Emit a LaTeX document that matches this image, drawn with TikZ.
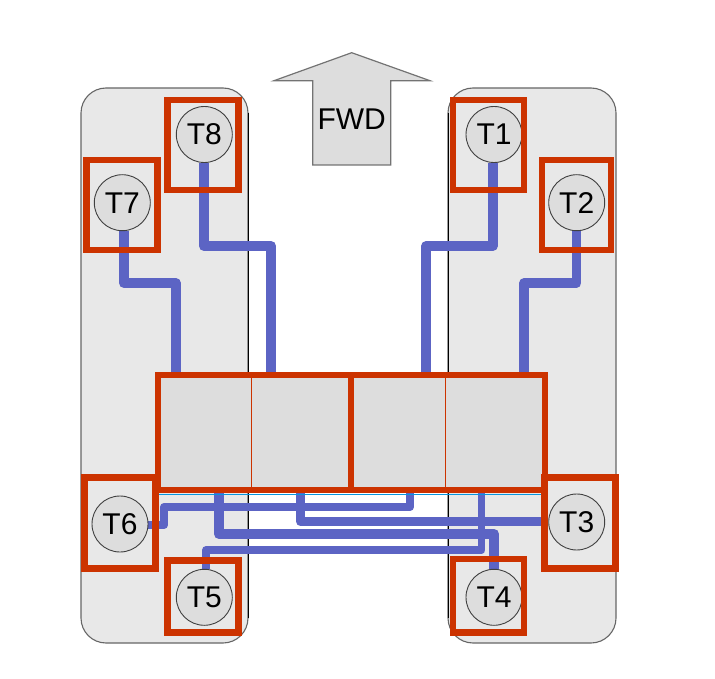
\documentclass[tikz,border=0pt]{standalone}
\usepackage{fontspec}
\setmainfont{Liberation Sans}
\usetikzlibrary{calc}
\definecolor{redc}{HTML}{CC3300}
\definecolor{bluew}{HTML}{5C64C4}
\definecolor{panelc}{HTML}{E8E8E8}
\definecolor{cellc}{HTML}{DDDDDD}
\pgfdeclarelayer{panels}
\pgfdeclarelayer{wires}
\pgfsetlayers{panels,wires,main}
\tikzset{
  panelbox/.style={draw=black!60,fill=panelc,line width=1.1pt,rounded corners=25pt},
  tire/.style={circle,draw=black!75,fill=cellc,line width=0.9pt,minimum size=56pt,inner sep=0pt,font=\fontsize{30}{30}\selectfont},
  frame/.style={draw=redc,line width=6.8pt,minimum width=#1,inner sep=0pt,outer sep=0pt},
  cell/.style={fill=cellc,draw=none,inner sep=0pt,outer sep=0pt,minimum height=115pt},
  wire/.style={draw=bluew,line width=#1,line join=round,line cap=butt},
  wire/.default=10pt,
}
\begin{document}
\begin{tikzpicture}[x=1pt,y=-1pt]
\useasboundingbox (0,0) rectangle (715,679);
% arrow label
\node[inner sep=0pt] (fwd) at (351.7,119) {\fontsize{30}{30}\selectfont FWD};
% central cells
\node[cell,minimum width=93pt,anchor=west] (c1) at (158,432.5) {};
\node[cell,minimum width=100pt,anchor=west] (c2) at (251,432.5) {};
\node[cell,minimum width=94pt,anchor=west] (c3) at (351,432.5) {};
\node[cell,minimum width=100pt,anchor=west] (c4) at (445,432.5) {};
\draw[redc,line width=0.8pt] (c1.north east) -- (c1.south east);
\draw[redc,line width=0.8pt] (c3.north east) -- (c3.south east);
\draw[redc,line width=5.5pt] (c2.north east) -- (c2.south east);
\draw[cyan!80!blue,line width=1pt] (c1.south west |- 0,494) -- (c4.south east |- 0,494);
\draw[redc,line width=5.5pt] (c1.north west) rectangle (c4.south east);
% tires
\node[tire,text depth=0pt,yshift=0pt] (t1) at (494,134.5) {T1};
\node[tire] (t2) at (576.7,202.7) {T2};
\node[tire] (t3) at (576.7,522) {T3};
\node[tire] (t4) at (494,597.3) {T4};
\node[tire] (t5) at (204.3,597.3) {T5};
\node[tire] (t6) at (120,524) {T6};
\node[tire] (t7) at (122.3,202.7) {T7};
\node[tire] (t8) at (204.3,134.5) {T8};
% red frames
\node[frame=71pt,minimum height=90pt] (f1) at (488.5,145) {};
\node[frame=69pt,minimum height=90pt] (f2) at (576.5,205) {};
\node[frame=71pt,minimum height=91pt] (f3) at (580,523.3) {};
\node[frame=71pt,minimum height=73.5pt] (f4) at (488.5,595.8) {};
\node[frame=71pt,minimum height=72.5pt] (f5) at (203.3,596.5) {};
\node[frame=71pt,minimum height=91pt] (f6) at (120.3,523.3) {};
\node[frame=71pt,minimum height=90pt] (f7) at (122.3,205) {};
\node[frame=71pt,minimum height=90pt] (f8) at (203.3,145) {};
% named bends and ends
\coordinate (b8a) at (204,246); \coordinate (b8b) at (271,246); \coordinate (e8) at (271,375);
\coordinate (b7a) at (124,283); \coordinate (b7b) at (175.7,283); \coordinate (e7) at (175.7,375);
\coordinate (b1a) at (493,246); \coordinate (b1b) at (426,246); \coordinate (e1) at (426,375);
\coordinate (b2a) at (576.7,283); \coordinate (b2b) at (524,283); \coordinate (e2) at (524,375);
\coordinate (b6a) at (164,525); \coordinate (b6b) at (164,507); \coordinate (b6c) at (410,507); \coordinate (e6) at (410,490);
\coordinate (e3) at (300.7,490); \coordinate (b3a) at (300.7,521.7);
\coordinate (e4) at (219,490); \coordinate (b4a) at (219,534); \coordinate (b4b) at (494,534);
\coordinate (b5a) at (206,550); \coordinate (b5b) at (481.7,550); \coordinate (e5) at (481.7,490);
\begin{pgfonlayer}{wires}
\draw[wire] (t8.south -| b8a) -- (b8a) -- (b8b) -- (e8);
\draw[wire] (t7.south -| b7a) -- (b7a) -- (b7b) -- (e7);
\draw[wire=9.5pt] (t1.south -| b1a) -- (b1a) -- (b1b) -- (e1);
\draw[wire=9.5pt] (t2.south -| b2a) -- (b2a) -- (b2b) -- (e2);
\draw[wire=8pt] (t6.east |- b6a) -- (b6a) -- (b6b) -- (b6c) -- (e6);
\draw[wire=9pt] (e3) -- (b3a) -- (t3.west |- b3a);
\draw[wire] (e4) -- (b4a) -- (b4b) -- (t4.north -| b4b);
\draw[wire=7.5pt] (t5.north -| b5a) -- (b5a) -- (b5b) -- (e5);
\end{pgfonlayer}
\begin{pgfonlayer}{panels}
\draw[panelbox] (81,88) rectangle (248,643);
\draw[panelbox] (448,88) rectangle (616,643);
\fill[cellc,draw=black!55,line width=1.2pt,line join=miter]
  (351.7,52.7) -- (430,80.7) -- (390.7,80.7) -- (390.7,165) -- (312.7,165) -- (312.7,80.7) -- (274,80.7) -- cycle;
\draw[black,line width=1pt] (248,113) -- (248,618);
\draw[black,line width=1pt] (448,113) -- (448,618);
\end{pgfonlayer}
\end{tikzpicture}
\end{document}
